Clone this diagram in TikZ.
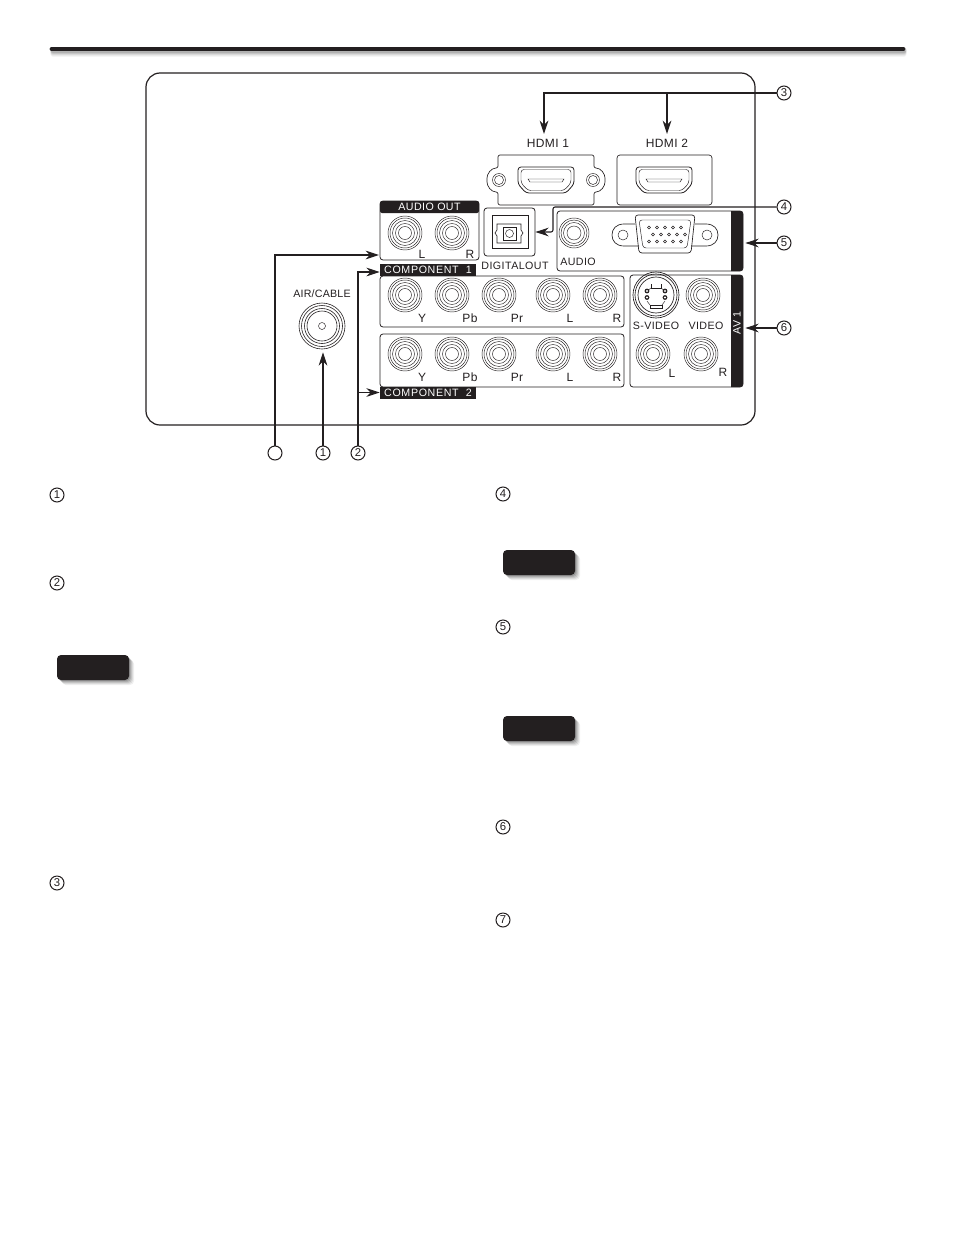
\documentclass[tikz,border=0pt]{standalone}
\usepackage{fontspec}
\setmainfont{Liberation Sans}
\usetikzlibrary{arrows.meta}
\definecolor{panelink}{HTML}{231F20}
\newlength\px
\setlength\px{0.75pt}
\tikzset{
  lbl/.style={inner sep=0pt,text=panelink,font=\fontsize{8pt}{9pt}\selectfont},
  biglbl/.style={inner sep=0pt,text=panelink,font=\fontsize{9pt}{10pt}\selectfont\addfontfeature{LetterSpace=3}},
  hdr/.style={fill=panelink,text=white,inner sep=0pt,minimum width=#1,minimum height=12\px,font=\fontsize{8pt}{9pt}\selectfont},
  portbox/.style={draw=panelink,line width=0.6pt,rounded corners=3\px,inner sep=0pt,minimum width=#1},
  callnum/.style={circle,draw=panelink,line width=0.75pt,inner sep=0pt,minimum size=14\px,text=panelink,font=\fontsize{8.5pt}{9pt}\selectfont},
  callarrow/.style={draw=panelink,line width=0.8pt,-{Stealth[length=10pt,width=6.5pt]}},
  thinline/.style={draw=panelink,line width=0.35pt},
  rcajack/.pic={
    \foreach \r in {17,15,12.5,9.5,6.5} \draw[thinline] (0,0) circle[radius=\r\px];
  },
  hdmiport/.pic={
    \draw[thinline,line width=0.6pt,rounded corners=3\px] (-28,-13) -- (28,-13) -- (28,4) -- (20,13) -- (-20,13) -- (-28,4) -- cycle;
    \draw[thinline,rounded corners=3\px] (-25,-10.5) -- (25,-10.5) -- (25,3) -- (18,10.5) -- (-18,10.5) -- (-25,3) -- cycle;
    \draw[thinline] (-18,-1) -- (18,-1) -- (16,2) -- (-16,2) -- cycle;
  },
}
\begin{document}
\begin{tikzpicture}[x=0.75pt,y=-0.75pt]
\useasboundingbox (0,0) rectangle (954,1235);
\foreach \s/\o in {5/0.04,4/0.05,3/0.07,2/0.09,1/0.1}
  \draw[black,opacity=\o,line width=3.9pt,line cap=round] (53,49+\s) -- (904,49+\s);
\draw[panelink,line width=3.6pt,line cap=round] (52,49) -- (903,49);
\node[draw=panelink,line width=0.9pt,rounded corners=14\px,inner sep=0pt,minimum width=609\px,minimum height=352\px] (backpanel) at (450.5,249) {};

\node[biglbl] (lblhdmia) at (548,143) {HDMI 1};
\node[biglbl] (lblhdmib) at (667,143) {HDMI 2};
\draw[thinline,line width=0.5pt,rounded corners=2\px] (498,155) -- (594,155) -- (594,168) .. controls (601,168) and (605,174) .. (605,180) .. controls (605,186) and (601,192) .. (594,192) -- (594,205) -- (498,205) -- (498,192) .. controls (491,192) and (487,186) .. (487,180) .. controls (487,174) and (491,168) .. (498,168) -- cycle;
\draw[thinline] (499,180) circle[radius=6.5\px] circle[radius=4.5\px];
\draw[thinline] (593,180) circle[radius=6.5\px] circle[radius=4.5\px];
\pic at (546,180) {hdmiport};
\node[portbox=95\px,minimum height=50\px,line width=0.5pt] (hdmibox) at (664.5,180) {};
\pic at (664,180) {hdmiport};

\node[portbox=99\px,minimum height=59\px] (audiobox) at (429.5,230.5) {};
\node[hdr=99\px,rounded corners=2\px] (hdaudio) at (429.5,207) {\addfontfeature{LetterSpace=4}AUDIO OUT};
\pic at (405,233) {rcajack};
\pic at (452,233) {rcajack};
\node[biglbl] (lblal) at (422,254) {L};
\node[biglbl] (lblar) at (470,254) {R};

\node[portbox=51\px,minimum height=48\px] (digibox) at (509.5,232) {};
\draw[thinline,line width=0.55pt] (492,215) rectangle (528,248);
\draw[thinline,line width=0.5pt] (497,224) -- (521,224) -- (521,230) -- (523,233) -- (521,236) -- (521,243) -- (497,243) -- (497,236) -- (495,233) -- (497,230) -- cycle;
\draw[thinline,line width=0.5pt] (503,227) rectangle (516,240);
\draw[thinline] (509.5,233.5) circle[radius=4\px];
\node[lbl] (lbldigi) at (515,266) {\addfontfeature{LetterSpace=4}DIGITALOUT};

\node[portbox=186\px,minimum height=60\px] (vgabox) at (650,241) {};
\fill[panelink] (731,211) [rounded corners=3\px] -- (743,211) -- (743,271) [sharp corners] -- (731,271) -- cycle;
\foreach \r in {15,13,10.5,7} \draw[thinline] (574,233) circle[radius=\r\px];
\node[lbl] (lblaudio) at (578,262) {\addfontfeature{LetterSpace=4}AUDIO};
\draw[thinline,line width=0.5pt] (635,224) -- (624,224) .. controls (616,224) and (612,229) .. (612,235) .. controls (612,241) and (616,246) .. (624,246) -- (639,246);
\draw[thinline,line width=0.5pt] (695,224) -- (706,224) .. controls (714,224) and (718,229) .. (718,235) .. controls (718,241) and (714,246) .. (706,246) -- (691,246);
\draw[thinline,line width=0.5pt,rounded corners=3\px] (635,215) -- (695,215) -- (691,253) -- (639,253) -- cycle;
\draw[thinline,rounded corners=3\px] (639,220) -- (691,220) -- (687,248) -- (643,248) -- cycle;
\draw[thinline] (623,235) circle[radius=5\px];
\draw[thinline] (707,235) circle[radius=5\px];
\foreach \x in {649,657,665,673,681} {
  \draw[thinline] (\x,227.5) circle[radius=1.5\px];
  \draw[thinline] (\x,241.5) circle[radius=1.5\px];
}
\foreach \x in {653,661,669,677,685} \draw[thinline] (\x,234.5) circle[radius=1.5\px];

\node[portbox=244\px,minimum height=51\px] (compabox) at (502,301.5) {};
\node[hdr=96\px] (hdcompa) at (428,270) {\addfontfeature{LetterSpace=6}COMPONENT\ \ 1};
\node[portbox=244\px,minimum height=53\px] (compbbox) at (502,360.5) {};
\node[hdr=96\px] (hdcompb) at (428,392.5) {\addfontfeature{LetterSpace=6}COMPONENT\ \ 2};
\foreach \x in {405,452,499,553,600} {
  \pic at (\x,295) {rcajack};
  \pic at (\x,354) {rcajack};
}
\foreach \t/\x/\y/\n in {Y/422/318/a,Pb/470/318/b,Pr/517/318/c,L/570/318/d,R/617/318/e,Y/422/377/f,Pb/470/377/g,Pr/517/377/h,L/570/377/i,R/617/377/j}
  \node[biglbl] (lblcomp\n) at (\x,\y) {\t};

\node[portbox=113\px,minimum height=112\px] (avbox) at (686.5,331) {};
\fill[panelink] (731,275) [rounded corners=3\px] -- (743,275) -- (743,387) [sharp corners] -- (731,387) -- cycle;
\node[lbl,text=white,rotate=90] (lblav) at (737,323) {\addfontfeature{LetterSpace=4}AV 1};
\foreach \r in {23,21,18} \draw[thinline,line width=0.5pt] (656,295) circle[radius=\r\px];
\draw[thinline] (651,284) -- (651,288) -- (661,288) -- (661,284);
\draw[thinline] (650,305) rectangle (662,308);
\draw[thinline] (647,291) -- (651,288) (661,288) -- (665,291) (647,301) -- (650,305) (662,305) -- (665,301);
\foreach \x in {647,665} \foreach \y in {291,297.5} {
  \fill[panelink] (\x,\y) circle[radius=2.4\px];
  \fill[white] (\x,\y) circle[radius=1.1\px];
}
\pic at (703,295) {rcajack};
\pic at (653,354) {rcajack};
\pic at (701,354) {rcajack};
\node[lbl] (lblsvid) at (656,326) {\addfontfeature{LetterSpace=4}S-VIDEO};
\node[lbl] (lblvid) at (706,326) {\addfontfeature{LetterSpace=4}VIDEO};
\node[biglbl] (lblavl) at (672,373) {L};
\node[biglbl] (lblavr) at (723,372) {R};

\node[lbl] (lblair) at (322,294) {\addfontfeature{LetterSpace=2}AIR/CABLE};
\node[circle,draw=none,inner sep=0pt,minimum size=52\px] (airport) at (322,326) {};
\foreach \r in {23,20.5,17.5,15} \draw[thinline,line width=0.45pt] (airport) circle[radius=\r\px];
\draw[thinline] (airport) circle[radius=3.5\px];

\node[callnum] (numthree) at (784,93) {3};
\node[callnum] (numfour) at (784,207) {4};
\node[callnum] (numfive) at (784,243) {5};
\node[callnum] (numsix) at (784,328) {6};
\node[callnum] (numseven) at (275,453) {};
\node[callnum] (numone) at (323,453) {1};
\node[callnum] (numtwo) at (358,453) {2};
\coordinate (tiphdmia) at (544,134);
\coordinate (tiphdmib) at (667,134);
\coordinate (elbowdigi) at (553,207);
\coordinate (tipaudio) at (379,255);

\draw[callarrow] (numthree) -| (tiphdmia);
\draw[callarrow] (numthree -| tiphdmib) -- (tiphdmib);
\draw[callarrow,rounded corners=2\px] (numfour) -- (elbowdigi) |- (digibox.east);
\draw[callarrow,shorten >=1.5pt] (numfive) -- (vgabox.east |- numfive);
\draw[callarrow,shorten >=1.5pt] (numsix) -- (avbox.east |- numsix);
\draw[callarrow] (numseven) |- (tipaudio);
\draw[callarrow] (numone) -- (numone |- airport.south);
\draw[callarrow] (numtwo) |- ([yshift=-1.5pt]hdcompa.west);
\draw[callarrow] (numtwo |- hdcompb.west) -- (hdcompb.west);

\node[callnum] (itemone) at (57,495) {1};
\node[callnum] (itemtwo) at (57,583) {2};
\node[callnum] (itemthree) at (57,883) {3};
\node[callnum] (itemfour) at (503,494) {4};
\node[callnum] (itemfive) at (503,627) {5};
\node[callnum] (itemsix) at (503,827) {6};
\node[callnum] (itemseven) at (503,920) {7};

\foreach \x/\y in {57/655,503/550,503/716} {
  \foreach \s/\o in {5/0.06,4/0.08,3/0.1,2/0.12,1/0.15}
    \fill[black,opacity=\o,rounded corners=4\px] (\x+\s,\y+\s) rectangle (\x+72+\s,\y+25+\s);
  \fill[panelink,rounded corners=4\px] (\x,\y) rectangle (\x+72,\y+25);
}
\end{tikzpicture}
\end{document}
